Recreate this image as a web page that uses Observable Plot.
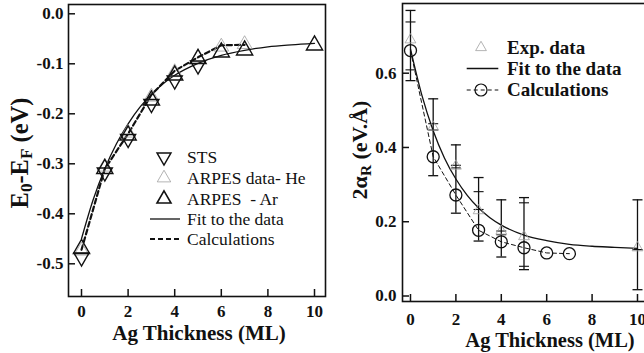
<!DOCTYPE html>
<html><head><meta charset="utf-8">
<script src="https://cdn.jsdelivr.net/npm/d3@7"></script>
<script src="https://cdn.jsdelivr.net/npm/@observablehq/plot@0.6"></script>
<style>
html,body{margin:0;padding:0;background:#fff;overflow:hidden;width:644px;height:353px;}
#wrap{position:relative;width:644px;height:353px;overflow:hidden;}
.panel{position:absolute;top:0;}
.t{position:absolute;font-family:"Liberation Serif","Times New Roman",serif;font-weight:bold;white-space:nowrap;color:#111;line-height:1;}
.rot{transform:translate(-50%,-50%) rotate(-90deg);}
.ctr{transform:translate(-50%,-50%);}
sub{font-size:70%;vertical-align:-0.25em;line-height:0;}
</style></head><body><div id="wrap"></div>
<script>
// ---------- Left panel data: E0-EF (eV) vs Ag thickness (ML) ----------
const stsX = [0, 1, 2, 3, 4, 5];
const stsY = [-0.487, -0.317, -0.25, -0.18, -0.133, -0.103];
const heX = [0, 1, 2, 3, 4, 5, 6, 7];
const heY = [-0.474, -0.306, -0.238, -0.166, -0.117, -0.087, -0.066, -0.061];
const arX = [0, 1, 2, 3, 4, 5, 6, 7, 10];
const arY = [-0.47, -0.31, -0.243, -0.173, -0.123, -0.09, -0.077, -0.073, -0.063];
const fitLX = [0, 0.5, 1, 1.5, 2, 2.5, 3, 3.5, 4, 5, 6, 7, 8, 9, 10];
const fitLY = [-0.45, -0.372, -0.31, -0.26, -0.22, -0.187, -0.162, -0.14, -0.123, -0.099, -0.083, -0.073, -0.066, -0.062, -0.059];
const calcLX = [0, 1, 2, 3, 4, 5, 6, 7];
const calcLY = [-0.472, -0.31, -0.24, -0.162, -0.114, -0.087, -0.063, -0.062];
const xTicksL = [0, 2, 4, 6, 8, 10];
const yTicksL = [0, -0.1, -0.2, -0.3, -0.4, -0.5];

// ---------- Right panel data: 2αR (eV.Å) vs Ag thickness (ML) ----------
const expX = [0, 1, 2, 3, 4, 5, 10];
const expY = [0.69, 0.455, 0.35, 0.23, 0.175, 0.16, 0.13];
const errLoA = [0.58, 0.324, 0.223, 0.148, 0.105, 0.071, 0.017];
const errHiA = [0.769, 0.531, 0.407, 0.319, 0.259, 0.265, 0.259];
const errLoB = [0.609, 0.447, 0.345, 0.233, 0.165, 0.08, 0.125];
const errHiB = [0.738, 0.464, 0.352, 0.281, 0.175, 0.251, 0.125];
const fitRX = [0, 0.5, 1, 1.5, 2, 2.5, 3, 3.5, 4, 5, 6, 7, 8, 9, 10];
const fitRY = [0.665, 0.541, 0.445, 0.371, 0.315, 0.271, 0.237, 0.211, 0.191, 0.164, 0.149, 0.139, 0.134, 0.131, 0.128];
const calcRX = [0, 1, 2, 3, 4, 5, 6, 7];
const calcRY = [0.661, 0.375, 0.272, 0.177, 0.146, 0.13, 0.116, 0.114];
const xTicksR = [0, 2, 4, 6, 8, 10];
const yTicksR = [0, 0.2, 0.4, 0.6];

const zip = (xs, ys) => xs.map((x, i) => ({x, y: ys[i]}));
const serif = "'Liberation Serif', 'Times New Roman', serif";
const ink = "#111";

// custom symbols
const sqrt3 = Math.sqrt(3);
const triDown = {draw(ctx, size) {
  const y = Math.sqrt(size / (sqrt3 * 3));
  ctx.moveTo(0, y * 2); ctx.lineTo(-sqrt3 * y, -y); ctx.lineTo(sqrt3 * y, -y); ctx.closePath();
}};
const hbar = {draw(ctx, size) {
  const w = Math.sqrt(size / Math.PI);
  ctx.moveTo(-w, 0); ctx.lineTo(w, 0);
}};

const wrap = document.getElementById("wrap");

// ---------- Left plot ----------
const L = {w: 330, h: 353, ml: 68, mr: 5, mt: 4, mb: 57};
const pwL = L.w - L.ml - L.mr, phL = L.h - L.mt - L.mb;
const left = Plot.plot({
  width: L.w, height: L.h,
  marginLeft: L.ml, marginRight: L.mr, marginTop: L.mt, marginBottom: L.mb,
  x: {domain: [-0.558, 10.472]},
  y: {domain: [-0.5654, 0.0186]},
  style: {fontFamily: serif, fontSize: "17px", fontWeight: "bold", background: "transparent", color: ink},
  marks: [
    Plot.axisX({ticks: xTicksL, tickSize: 0, tickPadding: 8, tickFormat: d => String(d), label: null}),
    Plot.axisY({ticks: yTicksL, tickSize: 0, tickPadding: 5, tickFormat: d => d.toFixed(1), label: null}),
    Plot.tickX(xTicksL, {x: d => d, insetTop: phL - 7, stroke: ink, strokeWidth: 1.5}),
    Plot.tickY(yTicksL, {y: d => d, insetRight: pwL - 7, stroke: ink, strokeWidth: 1.5}),
    Plot.line(zip(fitLX, fitLY), {x: "x", y: "y", curve: "monotone-x", stroke: ink, strokeWidth: 1.3}),
    Plot.line(zip(calcLX, calcLY), {x: "x", y: "y", stroke: ink, strokeWidth: 2.2, strokeDasharray: "5,3"}),
    Plot.dot(zip(heX, heY), {x: "x", y: "y", symbol: "triangle", r: 5.5, stroke: "#a0a0a0", strokeWidth: 0.8, fill: "none"}),
    Plot.dot(zip(stsX, stsY), {x: "x", y: "y", symbol: triDown, r: 5.6, stroke: ink, strokeWidth: 1.4, fill: "none"}),
    Plot.dot(zip(arX, arY), {x: "x", y: "y", symbol: "triangle", r: 6, stroke: ink, strokeWidth: 1.4, fill: "none"}),
    Plot.frame({stroke: ink, strokeWidth: 1.6})
  ]
});
left.classList.add("panel");
left.style.left = "0px";
wrap.appendChild(left);

// ---------- Right plot ----------
const R = {w: 330, h: 353, ml: 72, mr: 10, mt: 3, mb: 52};
const pwR = R.w - R.ml - R.mr, phR = R.h - R.mt - R.mb;
const expRows = expX.map((x, i) => ({x, y: expY[i], loA: errLoA[i], hiA: errHiA[i], loB: errLoB[i], hiB: errHiB[i]}));
const right = Plot.plot({
  width: R.w, height: R.h,
  marginLeft: R.ml, marginRight: R.mr, marginTop: R.mt, marginBottom: R.mb,
  x: {domain: [-0.352, 10.573]},
  y: {domain: [-0.0148, 0.7877]},
  style: {fontFamily: serif, fontSize: "17px", fontWeight: "bold", background: "transparent", color: ink},
  marks: [
    Plot.axisX({ticks: xTicksR, tickSize: 0, tickPadding: 11, tickFormat: d => String(d), label: null}),
    Plot.axisY({ticks: yTicksR, tickSize: 0, tickPadding: 6, tickFormat: d => d.toFixed(1), label: null}),
    Plot.tickX(xTicksR, {x: d => d, insetTop: phR - 7, stroke: ink, strokeWidth: 1.5}),
    Plot.tickY(yTicksR, {y: d => d, insetRight: pwR - 7, stroke: ink, strokeWidth: 1.5}),
    Plot.line(zip(fitRX, fitRY), {x: "x", y: "y", curve: "monotone-x", stroke: ink, strokeWidth: 1.3}),
    Plot.line(zip(calcRX, calcRY), {x: "x", y: "y", stroke: ink, strokeWidth: 1, strokeDasharray: "4,3"}),
    Plot.ruleX(expRows, {x: "x", y1: "loA", y2: "hiA", stroke: ink, strokeWidth: 1.3}),
    Plot.dot(expRows, {x: "x", y: "loA", symbol: hbar, r: 5, stroke: ink, strokeWidth: 1.3, fill: "none"}),
    Plot.dot(expRows, {x: "x", y: "hiA", symbol: hbar, r: 5, stroke: ink, strokeWidth: 1.3, fill: "none"}),
    Plot.dot(expRows, {x: "x", y: "loB", symbol: hbar, r: 5, stroke: ink, strokeWidth: 1.1, fill: "none"}),
    Plot.dot(expRows, {x: "x", y: "hiB", symbol: hbar, r: 5, stroke: ink, strokeWidth: 1.1, fill: "none"}),
    Plot.dot(expRows, {x: "x", y: "y", symbol: "triangle", r: 4, stroke: "#a0a0a0", strokeWidth: 0.8, fill: "none"}),
    Plot.dot(zip(calcRX, calcRY), {x: "x", y: "y", r: 6, stroke: ink, strokeWidth: 1.3, fill: "none"}),
    Plot.frame({stroke: ink, strokeWidth: 1.6})
  ]
});
right.classList.add("panel");
right.style.left = "330px";
wrap.appendChild(right);

// ---------- Legends ----------
function legend(svg, items, opts) {
  const g = d3.select(svg).append("g").attr("font-size", opts.fontSize)
    .attr("fill", ink).attr("text-anchor", "start")
    .style("text-anchor", "start").style("font-family", serif).style("font-weight", opts.fontWeight);
  items.forEach((it, i) => {
    const y = opts.ys[i];
    if (it.line) {
      g.append("line").attr("x1", opts.lx1).attr("x2", opts.lx2).attr("y1", y).attr("y2", y)
        .attr("stroke", ink).attr("stroke-width", it.sw).attr("stroke-dasharray", it.dash || null);
    }
    if (it.symbol) {
      g.append("path").attr("d", d3.symbol(it.symbol, Math.PI * it.r * it.r)())
        .attr("transform", `translate(${opts.mx},${y})`).attr("fill", "none")
        .attr("stroke", it.stroke || ink).attr("stroke-width", it.sw);
    }
    g.append("text").attr("x", opts.tx).attr("y", y).attr("dy", "0.33em")
      .style("white-space", "pre").text(it.label);
  });
}
legend(left, [
  {label: "STS", symbol: triDown, r: 5.2, sw: 1.4},
  {label: "ARPES data- He", symbol: d3.symbolTriangle, r: 5, sw: 0.8, stroke: "#a0a0a0"},
  {label: "ARPES  - Ar", symbol: d3.symbolTriangle, r: 5.2, sw: 1.6},
  {label: "Fit to the data", line: true, sw: 1.3},
  {label: "Calculations", line: true, sw: 2.2, dash: "5,3"}
], {fontSize: 17.5, fontWeight: "normal", ys: [157, 178, 199, 219, 239], mx: 164, lx1: 150, lx2: 180, tx: 187});
legend(right, [
  {label: "Exp. data", symbol: d3.symbolTriangle, r: 4, sw: 0.8, stroke: "#a0a0a0"},
  {label: "Fit to the data", line: true, sw: 1.5},
  {label: "Calculations", line: true, sw: 1.2, dash: "4,3", symbol: d3.symbolCircle, r: 6}
], {fontSize: 19, fontWeight: "bold", ys: [47.5, 68.5, 90], mx: 151, lx1: 136.7, lx2: 168.3, tx: 177});

// ---------- Axis titles ----------
function title(html, x, y, size, cls) {
  const d = document.createElement("div");
  d.className = "t " + cls;
  d.style.left = x + "px"; d.style.top = y + "px"; d.style.fontSize = size + "px";
  d.innerHTML = html;
  wrap.appendChild(d);
}
title("Ag Thickness (ML)", 199, 333, 21, "ctr");
title("Ag Thickness (ML)", 550, 340, 20.5, "ctr");
title("E<sub>0</sub>-E<sub>F</sub> (eV)", 20, 153, 24.5, "rot");
title("2α<sub>R</sub> (eV.Å)", 360, 150, 22, "rot");
</script></body></html>
